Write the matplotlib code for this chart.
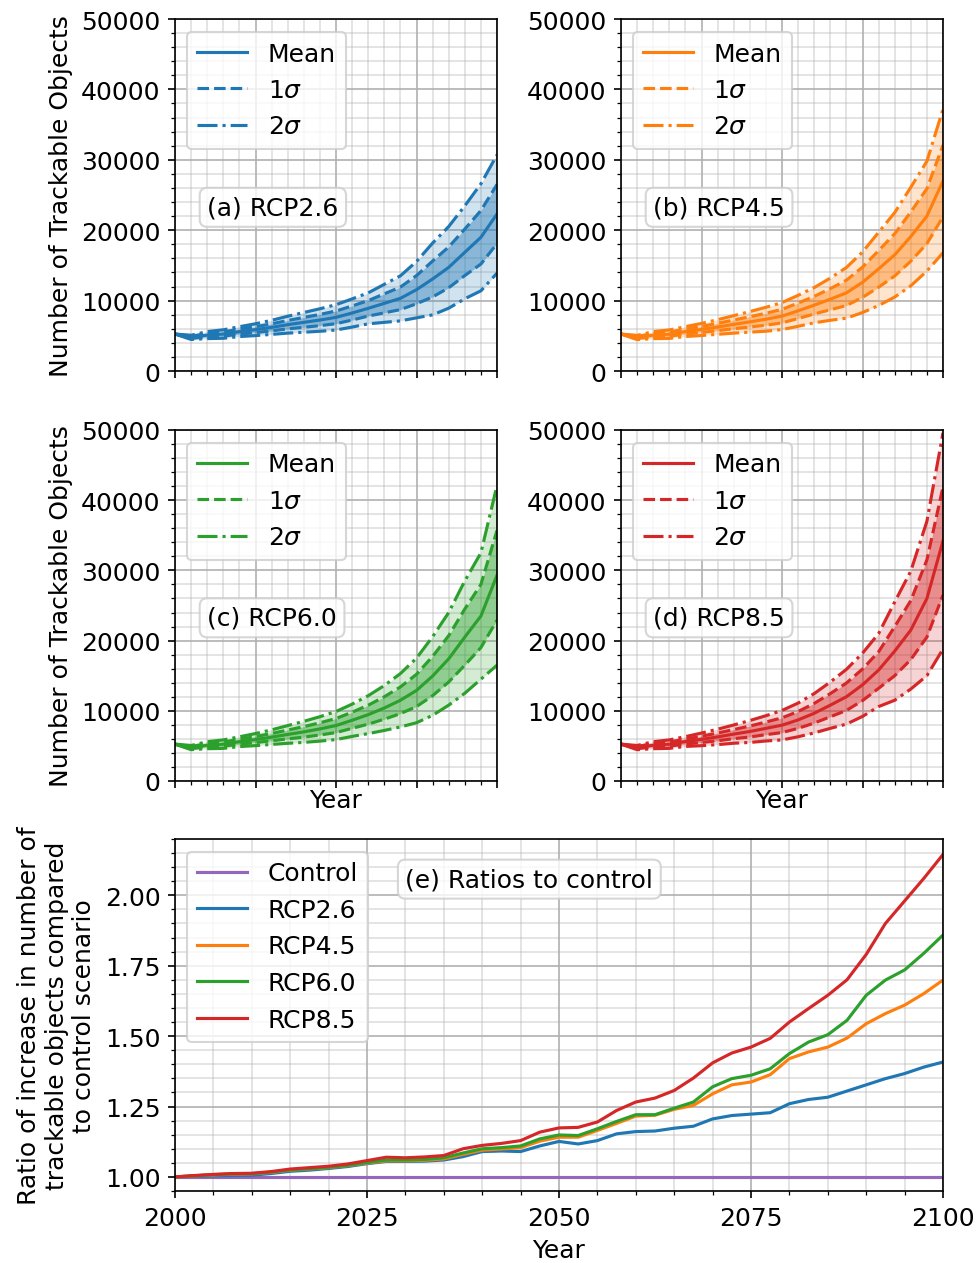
import numpy as np
import matplotlib
matplotlib.use("Agg")
import matplotlib.pyplot as plt
from matplotlib.ticker import MultipleLocator, FormatStrFormatter

plt.rcParams['font.size'] = 12

# ---- ensemble statistics (number of trackable objects), 5-year steps ----
YEARS = np.arange(2000, 2101, 5)

MEAN_RCP26 = [5250, 4780, 5100, 5250, 5590, 5870, 6200, 6580, 6910, 7240, 7620,
              8240, 8900, 9610, 10320, 11550, 13070, 14720, 16860, 18990, 22300]
STD_RCP26 = [0, 150, 250, 300, 350, 420, 500, 600, 700, 800, 900,
             1000, 1100, 1350, 1600, 2000, 2550, 2900, 3300, 3800, 4200]

MEAN_RCP45 = [5250, 4760, 5100, 5230, 5600, 5900, 6250, 6620, 6980, 7350, 7800,
              8550, 9350, 10200, 11100, 12600, 14500, 16500, 19100, 22000, 27000]
STD_RCP45 = [0, 150, 250, 300, 350, 430, 520, 620, 730, 850, 960,
             1100, 1250, 1500, 1800, 2150, 2600, 3000, 3500, 3900, 5100]

MEAN_RCP60 = [5250, 4760, 5100, 5250, 5600, 5900, 6250, 6630, 7000, 7420, 7900,
              8650, 9450, 10400, 11500, 12900, 14950, 17400, 20500, 23500, 29300]
STD_RCP60 = [0, 150, 250, 300, 350, 430, 520, 630, 750, 870, 1000,
             1150, 1350, 1600, 1900, 2300, 2800, 3300, 4000, 4500, 6400]

MEAN_RCP85 = [5250, 4760, 5100, 5250, 5620, 5930, 6280, 6680, 7050, 7500, 7950,
              8700, 9650, 10800, 12000, 13700, 15800, 18500, 21500, 26000, 34200]
STD_RCP85 = [0, 150, 250, 300, 350, 450, 550, 650, 780, 900, 1050,
             1200, 1400, 1650, 1950, 2250, 2600, 3500, 4200, 5500, 7700]

# ---- ratios to the control run, 2.5-year steps ----
RATIO_YEARS = np.arange(2000, 2100.1, 2.5)
CONTROL_YEARS = [2000, 2100]
CONTROL_RATIO = [1.0, 1.0]

RATIO_RCP26 = [1.000, 1.002, 1.004, 1.005, 1.006, 1.012, 1.020, 1.024, 1.030, 1.037,
               1.047, 1.055, 1.055, 1.056, 1.060, 1.072, 1.090, 1.092, 1.090, 1.110,
               1.126, 1.117, 1.129, 1.153, 1.161, 1.163, 1.173, 1.180, 1.206, 1.218,
               1.223, 1.228, 1.260, 1.275, 1.283, 1.305, 1.327, 1.349, 1.367, 1.390,
               1.408]
RATIO_RCP45 = [1.000, 1.004, 1.007, 1.010, 1.011, 1.016, 1.024, 1.028, 1.033, 1.040,
               1.049, 1.057, 1.057, 1.059, 1.064, 1.080, 1.095, 1.099, 1.104, 1.127,
               1.141, 1.141, 1.165, 1.190, 1.216, 1.219, 1.240, 1.254, 1.295, 1.327,
               1.337, 1.363, 1.420, 1.444, 1.461, 1.493, 1.544, 1.580, 1.610, 1.651,
               1.699]
RATIO_RCP60 = [1.000, 1.004, 1.008, 1.011, 1.012, 1.017, 1.025, 1.029, 1.034, 1.041,
               1.051, 1.060, 1.060, 1.062, 1.068, 1.085, 1.100, 1.104, 1.110, 1.135,
               1.149, 1.147, 1.171, 1.197, 1.221, 1.221, 1.244, 1.266, 1.320, 1.349,
               1.361, 1.384, 1.438, 1.479, 1.505, 1.556, 1.645, 1.699, 1.735, 1.794,
               1.859]
RATIO_RCP85 = [1.000, 1.005, 1.009, 1.012, 1.013, 1.019, 1.028, 1.033, 1.038, 1.046,
               1.058, 1.070, 1.068, 1.071, 1.076, 1.100, 1.112, 1.119, 1.129, 1.159,
               1.174, 1.176, 1.195, 1.236, 1.266, 1.280, 1.307, 1.351, 1.405, 1.440,
               1.461, 1.492, 1.550, 1.598, 1.645, 1.700, 1.790, 1.900, 1.980, 2.060,
               2.145]

SCENARIOS = ["RCP2.6", "RCP4.5", "RCP6.0", "RCP8.5"]
PANEL_TAGS = ["(a)", "(b)", "(c)", "(d)"]
COLORS = ["tab:blue", "tab:orange", "tab:green", "tab:red"]
MEANS = [MEAN_RCP26, MEAN_RCP45, MEAN_RCP60, MEAN_RCP85]
STDS = [STD_RCP26, STD_RCP45, STD_RCP60, STD_RCP85]
RATIOS = [RATIO_RCP26, RATIO_RCP45, RATIO_RCP60, RATIO_RCP85]

W, H = 978, 1264
fig = plt.figure(figsize=(W / 150, H / 150), dpi=150)


def rect(left, top, right, bottom):
    return [left / W, 1 - bottom / H, (right - left) / W, (bottom - top) / H]


panel_rects = [rect(175, 20, 497, 372), rect(621, 20, 943, 372),
               rect(175, 431, 497, 782), rect(621, 431, 943, 782)]

label_box = dict(boxstyle="round,pad=0.3", facecolor="white",
                 edgecolor="0.8", alpha=0.8)

for i in range(4):
    ax = fig.add_axes(panel_rects[i])
    c = COLORS[i]
    m = np.asarray(MEANS[i], float)
    s = np.asarray(STDS[i], float)
    ax.fill_between(YEARS, m - 2 * s, m + 2 * s, color=c, alpha=0.2, lw=0)
    ax.fill_between(YEARS, m - s, m + s, color=c, alpha=0.4, lw=0)
    ax.plot(YEARS, m, color=c, ls="-", label="Mean")
    ax.plot(YEARS, m + s, color=c, ls="--", label=r"$1\sigma$")
    ax.plot(YEARS, m + 2 * s, color=c, ls="-.", label=r"$2\sigma$")
    ax.plot(YEARS, m - s, color=c, ls="--")
    ax.plot(YEARS, m - 2 * s, color=c, ls="-.")

    ax.set_xlim(2000, 2100)
    ax.set_ylim(0, 50000)
    ax.xaxis.set_major_locator(MultipleLocator(25))
    ax.xaxis.set_minor_locator(MultipleLocator(5))
    ax.yaxis.set_major_locator(MultipleLocator(10000))
    ax.yaxis.set_minor_locator(MultipleLocator(2000))
    ax.tick_params(axis="x", which="both", labelbottom=False)
    ax.grid(which="major", color="#b0b0b0", lw=0.8)
    ax.grid(which="minor", color="#b0b0b0", lw=0.8, alpha=0.4)
    ax.set_axisbelow(True)

    ax.legend(loc="upper left")
    ax.text(0.1, 0.465, f"{PANEL_TAGS[i]} {SCENARIOS[i]}", transform=ax.transAxes,
            ha="left", va="center", bbox=label_box)
    if i % 2 == 0:
        ax.set_ylabel("Number of Trackable Objects")
    if i >= 2:
        ax.set_xlabel("Year", labelpad=0)

# ---- ratio panel ----
ax = fig.add_axes(rect(175, 840, 943, 1192))
ax.plot(CONTROL_YEARS, CONTROL_RATIO, color="tab:purple", label="Control")
for i in range(4):
    ax.plot(RATIO_YEARS, RATIOS[i], color=COLORS[i], label=SCENARIOS[i])
ax.set_xlim(2000, 2100)
ax.set_ylim(0.95, 2.2)
ax.xaxis.set_major_locator(MultipleLocator(25))
ax.xaxis.set_minor_locator(MultipleLocator(5))
ax.yaxis.set_major_locator(MultipleLocator(0.25))
ax.yaxis.set_minor_locator(MultipleLocator(0.05))
ax.yaxis.set_major_formatter(FormatStrFormatter("%.2f"))
ax.grid(which="major", color="#b0b0b0", lw=0.8)
ax.grid(which="minor", color="#b0b0b0", lw=0.8, alpha=0.4)
ax.set_axisbelow(True)
ax.legend(loc="upper left")
ax.text(0.30, 0.886, "(e) Ratios to control", transform=ax.transAxes,
        ha="left", va="center", bbox=label_box)
ax.set_xlabel("Year")
ax.set_ylabel("Ratio of increase in number of\ntrackable objects compared\nto control scenario")

fig.savefig("out.png", dpi=150)
